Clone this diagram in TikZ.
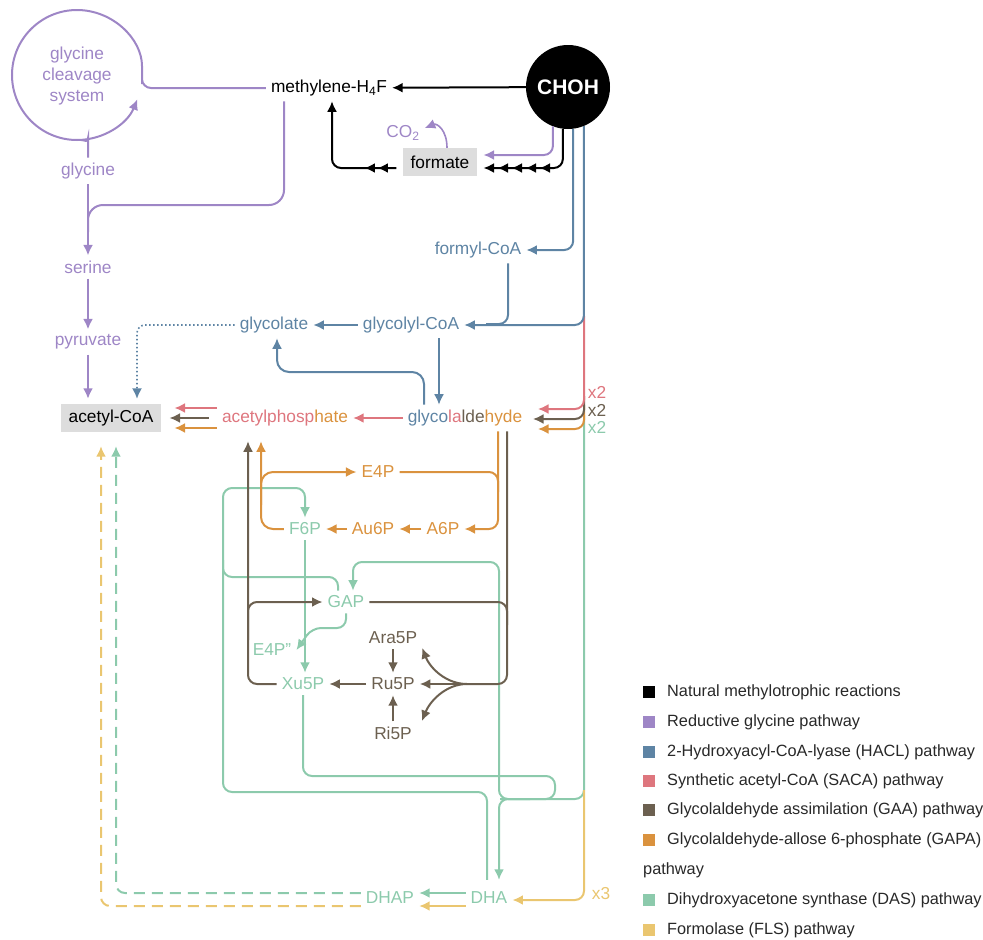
\documentclass[tikz,border=0pt]{standalone}
\usepackage{fontspec}
\setmainfont{Liberation Sans}
\usetikzlibrary{arrows.meta,positioning,decorations.markings}

\definecolor{rgpurple}{RGB}{158,134,198}
\definecolor{haclblue}{RGB}{94,132,164}
\definecolor{sacared}{RGB}{222,118,126}
\definecolor{gaabrown}{RGB}{108,96,80}
\definecolor{gapaorange}{RGB}{218,146,62}
\definecolor{dasgreen}{RGB}{140,202,172}
\definecolor{flsyellow}{RGB}{234,198,112}
\definecolor{boxgrey}{RGB}{221,221,221}
\definecolor{legtext}{RGB}{40,40,40}

\begin{document}
\begin{tikzpicture}[
        x=1pt, y=-1pt,
        font=\fontsize{17.3}{21}\selectfont,
        >={Latex[length=10.5pt,width=10pt]},
        every node/.style={inner sep=5pt},
        greybox/.style={fill=boxgrey, minimum height=28pt, inner xsep=8pt},
        ln/.style={line width=2pt, rounded corners=9pt},
        arr/.style={ln, -{Latex[length=10.5pt,width=10pt]}},
        thickarr/.style={arr, line width=2.7pt},
        dashln/.style={dash pattern=on 11pt off 7pt},
        tipsright/.style={postaction={decorate}, decoration={markings,
            mark=at position -20pt with {\arrow{>}},
            mark=at position -34pt with {\arrow{>}},
            mark=at position -48pt with {\arrow{>}},
            mark=at position -62pt with {\arrow{>}}}},
        tipsleft/.style={postaction={decorate}, decoration={markings,
            mark=at position 25pt with {\arrow{>}},
            mark=at position 38pt with {\arrow{>}}}},
        legsq/.style={minimum size=12pt, inner sep=0pt},
        legtxt/.style={anchor=west, inner sep=0pt, text=legtext, font=\fontsize{16.3}{19}\selectfont}
    ]
        \useasboundingbox (0,0) rectangle (983,940);

        % metabolites
        \node[circle, fill=black, text=white, minimum size=84pt, font=\bfseries\fontsize{21}{24}\selectfont] (choh) at (568,87) {CHOH};
        \node (mthf) at (329,88) {methylene-H\textsubscript{4}F};
        \node[greybox] (formate) at (440,162) {formate};
        \node[text=rgpurple] (co2) at (403,133) {CO\textsubscript{2}};
        \node[text=rgpurple, align=center] (gcs) at (77,76) {glycine\\cleavage\\system};
        \node[text=rgpurple] (gly) at (88,171) {glycine};
        \node[text=rgpurple] (ser) at (88,267) {serine};
        \node[text=rgpurple] (pyr) at (88,342) {pyruvate};
        \node[greybox, minimum width=100pt] (accoa) at (111,418) {acetyl-CoA};
        \node[text=haclblue] (fcoa) at (478,250) {formyl-CoA};
        \node[text=haclblue] (gcoa) at (411,325) {glycolyl-CoA};
        \node[text=haclblue] (glyc) at (274,325) {glycolate};
        \node (glyald) at (465,418) {\textcolor{haclblue}{glyco}\textcolor{sacared}{la}\textcolor{gaabrown}{lde}\textcolor{gapaorange}{hyde}};
        \node (acp) at (285,418) {\textcolor{sacared}{acetylphosp}\textcolor{gapaorange}{hate}};
        \node[text=gapaorange] (e4p) at (378,472) {E4P};
        \node[text=dasgreen] (f6p) at (305,529) {F6P};
        \node[text=gapaorange] (au6p) at (373,529) {Au6P};
        \node[text=gapaorange] (a6p) at (443,529) {A6P};
        \node[text=dasgreen] (gap) at (346,602) {GAP};
        \node[text=dasgreen] (e4pb) at (272,650) {E4P"};
        \node[text=dasgreen] (xu5p) at (303,684) {Xu5P};
        \node[text=gaabrown] (ru5p) at (393,684) {Ru5P};
        \node[text=gaabrown] (ara5p) at (393,638) {Ara5P};
        \node[text=gaabrown] (ri5p) at (393,733) {Ri5P};
        \node[text=dasgreen] (dhap) at (390,898) {DHAP};
        \node[text=dasgreen] (dha) at (489,898) {DHA};
        \node[text=sacared] (xred) at (597,392) {x2};
        \node[text=gaabrown] (xbrown) at (597,410) {x2};
        \node[text=dasgreen] (xgreen) at (597,427) {x2};
        \node[text=flsyellow] (xyellow) at (601,894) {x3};

        % DAS pathway
        \draw[ln, dasgreen] (584,415) -- (584,799) -- (500,799);
        \draw[arr, dasgreen] (xu5p.south) -- (303,776) -- (555,776) -- (555,799) -- (499,799) -- ([xshift=10pt,yshift=7pt]dha.north);
        \draw[arr, dasgreen] (530,799) -- (499,799) -- (499,562) -- (353,562) -- ([xshift=7pt]gap.north);
        \draw[arr, dasgreen] ([xshift=-2pt,yshift=7pt]dha.north) -- (487,792) -- (223,792) -- (223,488) -- (305,488) -- (f6p.north);
        \draw[ln, dasgreen] (223,560) -- (223,577) -- (338,577) -- ([xshift=-8pt]gap.north);
        \draw[arr, dasgreen] (gap.south) -- (346,628) -- (312,628) -- (e4pb.east);
        \draw[arr, dasgreen] (f6p.south) -- (f6p.south |- xu5p.north);
        \draw[arr, dasgreen] ([yshift=5pt]dha.west) -- ([yshift=5pt]dhap.east);
        \draw[arr, dasgreen, dashln] ([yshift=5pt]dhap.west) -| ([xshift=5pt,yshift=-14pt]accoa.south);

        % FLS pathway
        \draw[arr, flsyellow] (584,790) |- ([yshift=-2pt]dha.east);
        \draw[arr, flsyellow] ([yshift=-8pt]dha.west) -- ([yshift=-8pt]dhap.east);
        \draw[arr, flsyellow, dashln] ([yshift=-8pt]dhap.west) -| ([xshift=-10pt,yshift=-14pt]accoa.south);

        % GAPA pathway
        \draw[arr, gapaorange] (584,405) |- (538,429);
        \draw[arr, gapaorange] ([xshift=33pt]glyald.south) |- (a6p.east);
        \draw[ln, gapaorange] (e4p.east) -- (498,472) -- (498,492);
        \draw[arr, gapaorange] (a6p) -- (au6p);
        \draw[arr, gapaorange] (au6p) -- (f6p);
        \draw[arr, gapaorange, rounded corners=12pt] (f6p.west) -| ([xshift=-24pt,yshift=-10pt]acp.south);
        \draw[arr, gapaorange, rounded corners=12pt] (261,505) |- (e4p.west);
        \draw[arr, gapaorange] ([yshift=-10pt]acp.west) -- ([xshift=13pt,yshift=-10pt]accoa.east);

        % GAA pathway
        \draw[arr, gaabrown] (584,396) |- (533,419);
        \draw[arr, gaabrown] ([xshift=-8pt]acp.west) -- ([xshift=8pt]accoa.east);
        \draw[arr, gaabrown] (xu5p.west) -| ([xshift=-37pt,yshift=-10pt]acp.south);
        \draw[arr, gaabrown] (248,640) |- (gap.west);
        \draw[ln, gaabrown] ([xshift=42pt]glyald.south) |- (467,684);
        \draw[ln, gaabrown] (gap.east) -| (507,625);
        \draw[arr, gaabrown] (467,684) -- (ru5p.east);
        \draw[arr, gaabrown] (467,684) .. controls (446,684) and (430,668) .. ([yshift=-10pt]ara5p.east);
        \draw[arr, gaabrown] (467,684) .. controls (446,684) and (430,701) .. ([xshift=5pt,yshift=12pt]ri5p.east);
        \draw[arr, gaabrown] (ara5p) -- (ru5p);
        \draw[arr, gaabrown] (ri5p) -- (ru5p);
        \draw[arr, gaabrown] (ru5p) -- (xu5p);

        % SACA pathway
        \draw[arr, sacared] (584,316) |- (538,409);
        \draw[arr, sacared] (glyald) -- (acp);
        \draw[arr, sacared] ([yshift=10pt]acp.west) -- ([xshift=13pt,yshift=10pt]accoa.east);

        % HACL pathway
        \draw[arr, haclblue] (choh.-83) |- (fcoa.east);
        \draw[ln, haclblue] ([xshift=30pt]fcoa.south) -- (508,324) -- (486,324);
        \draw[arr, haclblue] (choh.-68) |- (gcoa.east);
        \draw[arr, haclblue] (gcoa) -- (glyc);
        \draw[arr, haclblue] ([xshift=28pt]gcoa.south) -- ([xshift=-26pt]glyald.north);
        \draw[arr, haclblue, rounded corners=12pt] ([xshift=-41pt]glyald.north) |- (277,372) -- ([xshift=3pt]glyc.south);
        \draw[->, haclblue, line width=1.6pt, dash pattern=on 1.6pt off 2.4pt, rounded corners=8pt, shorten >=5pt] (glyc.west) -| ([xshift=26pt]accoa.north);

        % reductive glycine pathway
        \draw[arr, rgpurple] (mthf.west) -| (142,75) arc[start angle=0, end angle=-338, radius=65];
        \draw[ln, rgpurple] (gly.north) -- (88,147) arc[start angle=0, end angle=-90, radius=7];
        \draw[ln, rgpurple, rounded corners=15pt] ([xshift=-45pt]mthf.south) -- (284,205) -- (88,205) -- (88,232);
        \draw[thickarr, rgpurple] (gly) -- (ser);
        \draw[thickarr, rgpurple] (ser) -- (pyr);
        \draw[thickarr, rgpurple, shorten >=5pt] (pyr.south) -- (pyr.south |- accoa.north);
        \draw[arr, rgpurple, line width=1.6pt] ([xshift=7pt]formate.north) .. controls (447,130) and (437,123) .. ([yshift=5pt]co2.east);
        \draw[arr, rgpurple, shorten >=6pt] (choh.-111) |- ([yshift=7pt]formate.east);

        % natural methylotrophic reactions
        \draw[arr] (choh) -- (mthf);
        \draw[arr, tipsright, shorten >=6pt] (choh.-97) |- ([yshift=-6pt]formate.east);
        \draw[arr, tipsleft, shorten <=6pt] ([yshift=-6pt]formate.west) -| ([xshift=3pt]mthf.south);

        % legend
        \foreach \y/\c/\t [count=\i] in {692/black/Natural methylotrophic reactions,
            722/rgpurple/Reductive glycine pathway,
            752/haclblue/2-Hydroxyacyl-CoA-lyase (HACL) pathway,
            781/sacared/Synthetic acetyl-CoA (SACA) pathway,
            810/gaabrown/Glycolaldehyde assimilation (GAA) pathway,
            840/gapaorange/Glycolaldehyde-allose 6-phosphate (GAPA),
            900/dasgreen/Dihydroxyacetone synthase (DAS) pathway,
            930/flsyellow/Formolase (FLS) pathway} {
            \node[legsq, fill=\c] (sq\i) at (649,\y) {};
            \node[legtxt] (lt\i) at (667,\y) {\t};
        }
        \node[legtxt] (ltwrap) at (643,870) {pathway};
    \end{tikzpicture}
\end{document}
